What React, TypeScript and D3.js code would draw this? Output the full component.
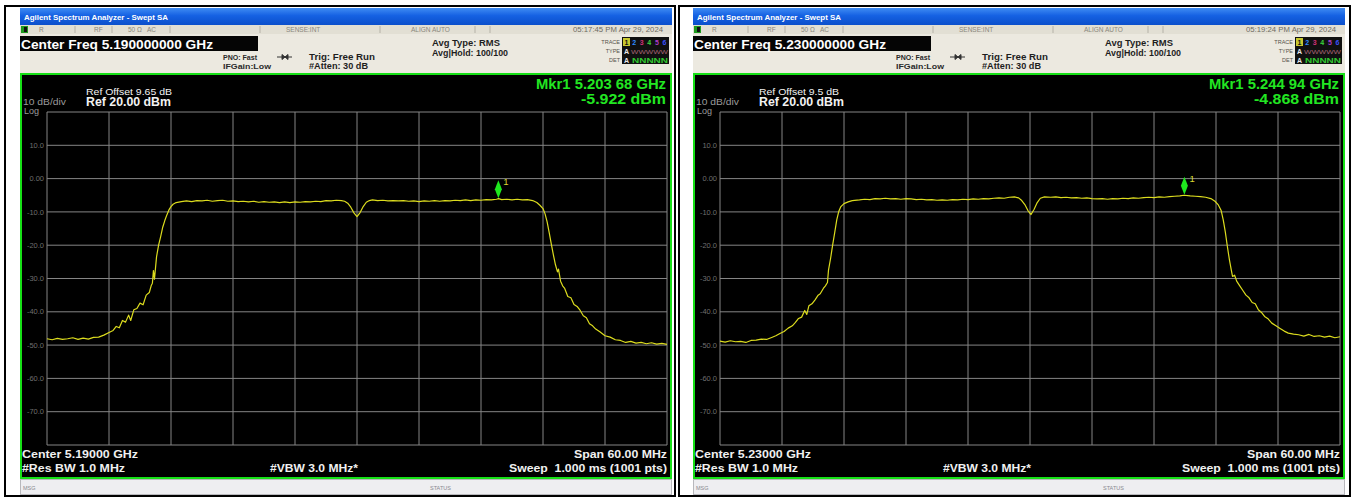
import React from "react";
import * as d3 from "d3";

// ---------- data ----------
const centerFreqsMHz = [5190, 5230];
const spanMHz = 60;
const refLevelDbm = 20;
const dbPerDiv = 10;
const refOffsetLabels = ["Ref Offset 9.65 dB", "Ref Offset 9.5 dB"];
const refLabels = ["Ref 20.00 dBm", "Ref 20.00 dBm"];
const markerFreqsMHz = [5203.68, 5244.94];
const markerLevelsDbm = [-5.922, -4.868];
const markerFreqLabels = ["Mkr1 5.203 68 GHz", "Mkr1 5.244 94 GHz"];
const markerLevelLabels = ["-5.922 dBm", "-4.868 dBm"];
const centerFreqLabels = ["Center Freq 5.190000000 GHz", "Center Freq 5.230000000 GHz"];
const centerLabels = ["Center 5.19000 GHz", "Center 5.23000 GHz"];
const timestampLabels = ["05:17:45 PM Apr 29, 2024", "05:19:24 PM Apr 29, 2024"];
const yTickValues = [10, 0, -10, -20, -30, -40, -50, -60, -70];
const yTickLabels = ["10.0", "0.00", "-10.0", "-20.0", "-30.0", "-40.0", "-50.0", "-60.0", "-70.0"];

// [offset from center (MHz), level (dBm)]
const traceLeft: [number, number][] = [
  [-30, -48.1], [-29.5, -48.4], [-29, -48.0], [-28.5, -48.3], [-28, -48.1], [-27.5, -47.8], [-27, -48.3],
  [-26.5, -47.9], [-26, -48.2], [-25.5, -47.7], [-25, -47.6], [-24.5, -47.0], [-24, -46.2], [-23.6, -45.6],
  [-23.3, -44.4], [-23, -44.8], [-22.7, -42.6], [-22.4, -43.1], [-22.1, -41.0], [-21.9, -42.6], [-21.6, -39.4],
  [-21.3, -39.0], [-21, -37.4], [-20.7, -37.9], [-20.4, -35.0], [-20.1, -34.2], [-19.9, -32.0], [-19.8, -31.4],
  [-19.7, -27.6], [-19.6, -30.2], [-19.4, -23.5], [-19.2, -20.0], [-19.0, -17.4], [-18.8, -14.6], [-18.6, -12.6],
  [-18.4, -10.9], [-18.2, -9.4], [-18.0, -8.4], [-17.8, -7.7], [-17.5, -7.2], [-17, -6.9], [-16.5, -6.7],
  [-16, -6.9], [-15.5, -6.6], [-15, -6.7], [-14.5, -6.5], [-14, -6.8], [-13.5, -6.6], [-13, -6.5], [-12.5, -6.8],
  [-12, -6.7], [-11.5, -6.9], [-11, -6.8], [-10.5, -7.0], [-10, -6.8], [-9.5, -7.1], [-9, -6.9], [-8.5, -7.1],
  [-8, -7.0], [-7.5, -7.2], [-7, -7.0], [-6.5, -7.2], [-6, -7.0], [-5.5, -7.1], [-5, -6.9], [-4.5, -7.0],
  [-4, -6.8], [-3.5, -6.9], [-3, -6.6], [-2.5, -6.7], [-2, -6.5], [-1.5, -6.6], [-1.2, -6.8], [-0.9, -7.4],
  [-0.6, -8.6], [-0.3, -10.3], [0, -11.4], [0.3, -10.2], [0.6, -8.4], [0.9, -7.1], [1.2, -6.6], [1.5, -6.4],
  [2, -6.6], [2.5, -6.5], [3, -6.7], [3.5, -6.6], [4, -6.7], [4.5, -6.6], [5, -6.8], [5.5, -6.7], [6, -6.9],
  [6.5, -6.7], [7, -6.8], [7.5, -6.6], [8, -6.8], [8.5, -6.6], [9, -6.7], [9.5, -6.5], [10, -6.6], [10.5, -6.4],
  [11, -6.6], [11.5, -6.4], [12, -6.5], [12.5, -6.3], [13, -6.4], [13.5, -6.2], [13.7, -6.0], [14, -6.3],
  [14.5, -6.2], [15, -6.4], [15.5, -6.2], [16, -6.4], [16.5, -6.3], [17, -6.6], [17.4, -7.2], [17.7, -8.0],
  [18, -9.0], [18.2, -10.6], [18.4, -13.0], [18.6, -16.2], [18.8, -19.6], [19, -22.8], [19.2, -25.8],
  [19.4, -28.0], [19.5, -27.2], [19.7, -30.8], [19.9, -32.2], [20.1, -33.0], [20.4, -35.4], [20.7, -35.8],
  [21, -37.8], [21.3, -38.4], [21.6, -39.6], [21.9, -41.2], [22.2, -41.8], [22.5, -43.6], [22.8, -44.2],
  [23.1, -45.2], [23.5, -46.0], [24, -47.2], [24.5, -47.6], [25, -48.4], [25.5, -48.6], [26, -49.2],
  [26.5, -48.9], [27, -49.4], [27.5, -49.2], [28, -49.6], [28.5, -49.3], [29, -49.7], [29.5, -49.5], [30, -49.8],
];

const traceRight: [number, number][] = [
  [-30, -48.8], [-29.5, -49.1], [-29, -48.7], [-28.5, -49.0], [-28, -48.9], [-27.5, -49.2], [-27, -48.6],
  [-26.5, -48.5], [-26, -48.2], [-25.5, -48.3], [-25, -47.7], [-24.6, -47.2], [-24.2, -46.5], [-23.8, -45.9],
  [-23.4, -44.9], [-23.0, -44.2], [-22.7, -43.2], [-22.4, -42.0], [-22.1, -41.6], [-21.8, -39.6], [-21.6, -40.8],
  [-21.4, -38.2], [-21.1, -37.6], [-20.8, -36.4], [-20.5, -35.0], [-20.3, -34.6], [-20.0, -33.0], [-19.8, -32.2],
  [-19.6, -31.2], [-19.5, -27.5], [-19.3, -24.0], [-19.1, -20.0], [-18.9, -16.2], [-18.7, -12.4], [-18.5, -9.8],
  [-18.3, -8.4], [-18.0, -7.5], [-17.6, -7.0], [-17.2, -6.6], [-16.5, -6.4], [-16, -6.2], [-15.5, -6.3],
  [-15, -6.0], [-14.5, -6.1], [-14, -5.9], [-13.5, -6.1], [-13, -6.0], [-12.5, -6.2], [-12, -6.0], [-11.5, -6.1],
  [-11, -6.3], [-10.5, -6.2], [-10, -6.4], [-9.5, -6.3], [-9, -6.5], [-8.5, -6.4], [-8, -6.5], [-7.5, -6.3],
  [-7, -6.4], [-6.5, -6.2], [-6, -6.3], [-5.5, -6.1], [-5, -6.2], [-4.5, -6.0], [-4, -6.1], [-3.5, -5.9],
  [-3, -5.8], [-2.5, -5.9], [-2, -5.6], [-1.5, -5.5], [-1.1, -5.8], [-0.8, -6.6], [-0.5, -7.8], [-0.2, -9.6],
  [0.1, -10.8], [0.4, -9.2], [0.7, -7.2], [1.0, -5.9], [1.4, -5.5], [2, -5.6], [2.5, -5.5], [3, -5.7],
  [3.5, -5.6], [4, -5.8], [4.5, -5.7], [5, -5.9], [5.5, -5.8], [6, -6.0], [6.5, -6.1], [7, -6.0], [7.5, -6.2],
  [8, -6.0], [8.5, -6.1], [9, -5.9], [9.5, -6.0], [10, -5.8], [10.5, -5.9], [11, -5.7], [11.5, -5.6],
  [12, -5.7], [12.5, -5.5], [13, -5.6], [13.5, -5.4], [14, -5.3], [14.5, -5.2], [14.9, -5.0], [15.5, -5.2],
  [16, -5.3], [16.5, -5.4], [17, -5.6], [17.5, -6.0], [17.9, -6.8], [18.2, -7.8], [18.5, -9.6], [18.7, -12.4],
  [18.9, -16.0], [19.1, -20.4], [19.3, -24.4], [19.5, -27.8], [19.6, -29.4], [19.8, -29.0], [20.0, -30.8],
  [20.3, -32.2], [20.6, -33.6], [20.9, -35.0], [21.2, -35.8], [21.5, -37.2], [21.8, -37.6], [22.1, -39.4],
  [22.4, -40.2], [22.7, -41.4], [23.0, -42.0], [23.4, -43.4], [23.8, -44.2], [24.2, -45.0], [24.6, -45.8],
  [25, -46.4], [25.5, -46.7], [26, -46.9], [26.5, -47.3], [27, -46.8], [27.5, -47.4], [28, -47.2],
  [28.5, -47.6], [29, -47.3], [29.5, -47.8], [30, -47.5],
];

const traces = [traceLeft, traceRight];
const panelOrigins = [20, 693];

const FONT = "'Liberation Sans', Arial, sans-serif";

function Panel({ idx }: { idx: number }) {
  const ox = panelOrigins[idx];
  const c = centerFreqsMHz[idx];
  const x = d3.scaleLinear().domain([c - spanMHz / 2, c + spanMHz / 2]).range([ox + 27, ox + 647]);
  const y = d3
    .scaleLinear()
    .domain([refLevelDbm, refLevelDbm - 10 * dbPerDiv])
    .range([112, 445]);
  const line = d3
    .line<[number, number]>()
    .x((d) => x(c + d[0]))
    .y((d) => y(d[1]));
  const xGrid = d3.range(11).map((i) => c - spanMHz / 2 + (i * spanMHz) / 10);
  const yGrid = d3.range(11).map((i) => refLevelDbm - i * dbPerDiv);
  const mx = x(markerFreqsMHz[idx]);
  const my = y(markerLevelsDbm[idx]);
  const gradId = `tb${idx}`;
  const traceColors = ["#e8e8e8", "#2f8cff", "#d0307a", "#3cd43c", "#b03cc8", "#3a52ff"];
  return (
    <g fontFamily={FONT}>
      <defs>
        <linearGradient id={gradId} x1="0" y1="0" x2="0" y2="1">
          <stop offset="0" stopColor="#3f8cf3" />
          <stop offset="0.45" stopColor="#1561e3" />
          <stop offset="1" stopColor="#0b4fcb" />
        </linearGradient>
      </defs>
      {/* window */}
      <rect x={ox} y={8} width={652} height={488} fill="#e9e6dd" />
      <rect x={ox} y={8} width={652} height={17} fill={`url(#${gradId})`} />
      <text x={ox + 4} y={19.5} fontSize={8} fontWeight="bold" fill="#ffffff" textLength={144} lengthAdjust="spacingAndGlyphs">
        Agilent Spectrum Analyzer - Swept SA
      </text>
      {/* status row */}
      <rect x={ox} y={25} width={652} height={9} fill="#e2dfd4" />
      <rect x={ox + 1} y={26} width={7} height={7} fill="#1e9a1e" />
      <rect x={ox + 4} y={27} width={3} height={5} fill="#111" />
      {[55, 92, 150, 240, 360, 455, 470].map((s) => (
        <line key={s} x1={ox + s} x2={ox + s} y1={26} y2={33} stroke="#b5b2a8" />
      ))}
      <g fontSize={6.5} fill="#8a877d">
        <text x={ox + 19} y={32}>R</text>
        <text x={ox + 74} y={32}>RF</text>
        <text x={ox + 108} y={32}>50 Ω</text>
        <text x={ox + 127} y={32}>AC</text>
        <text x={ox + 266} y={32}>SENSE:INT</text>
        <text x={ox + 391} y={32}>ALIGN AUTO</text>
        <text x={ox + 643} y={32} textAnchor="end" fill="#6e6b62" textLength={90} lengthAdjust="spacingAndGlyphs">
          {timestampLabels[idx]}
        </text>
      </g>
      {/* second row */}
      <rect x={ox} y={34} width={652} height={40} fill="#ece9e0" />
      <rect x={ox} y={36} width={238} height={15} fill="#050505" />
      <text x={ox + 1} y={49} fontSize={12.5} fontWeight="bold" fill="#ffffff" textLength={192} lengthAdjust="spacingAndGlyphs">
        {centerFreqLabels[idx]}
      </text>
      <g fontSize={7.5} fontWeight="bold" fill="#2a2a2a">
        <text x={ox + 203} y={60} textLength={34} lengthAdjust="spacingAndGlyphs">PNO: Fast</text>
        <text x={ox + 203} y={69} textLength={48} lengthAdjust="spacingAndGlyphs">IFGain:Low</text>
      </g>
      <g stroke="#333" strokeWidth={1} fill="#333">
        <line x1={ox + 257} x2={ox + 272} y1={57} y2={57} />
        <path d={`M${ox + 262},54.5 L${ox + 265},57 L${ox + 262},59.5 Z`} />
        <path d={`M${ox + 268},54.5 L${ox + 265},57 L${ox + 268},59.5 Z`} />
      </g>
      <g fontSize={8.5} fontWeight="bold" fill="#1e1e1e">
        <text x={ox + 289} y={60} textLength={66} lengthAdjust="spacingAndGlyphs">Trig: Free Run</text>
        <text x={ox + 289} y={69} textLength={59} lengthAdjust="spacingAndGlyphs">#Atten: 30 dB</text>
        <text x={ox + 412} y={46} textLength={68} lengthAdjust="spacingAndGlyphs">Avg Type: RMS</text>
        <text x={ox + 412} y={56} textLength={76} lengthAdjust="spacingAndGlyphs">Avg|Hold: 100/100</text>
      </g>
      {/* trace box */}
      <g fontSize={5.5} fill="#55524a" textAnchor="end">
        <text x={ox + 600} y={44}>TRACE</text>
        <text x={ox + 600} y={53}>TYPE</text>
        <text x={ox + 600} y={62}>DET</text>
      </g>
      <rect x={ox + 602} y={37} width={47} height={27} fill="#101010" />
      <rect x={ox + 603} y={38} width={7} height={8} fill="#c8c830" />
      {traceColors.map((col, i) => (
        <text key={i} x={ox + 606.5 + i * 7.6} y={45} fontSize={7} fontWeight="bold" textAnchor="middle" fill={i === 0 ? "#111" : col}>
          {i + 1}
        </text>
      ))}
      <text x={ox + 606.5} y={54} fontSize={7} fontWeight="bold" textAnchor="middle" fill="#e8e8e8">A</text>
      <text x={ox + 611} y={53.5} fontSize={5.5} fill="#a06070" textLength={37} lengthAdjust="spacingAndGlyphs">WWWWW</text>
      <text x={ox + 606.5} y={62.5} fontSize={7} fontWeight="bold" textAnchor="middle" fill="#e8e8e8">A</text>
      <text x={ox + 612} y={62.5} fontSize={6.5} fontWeight="bold" fill="#32c832" textLength={36} lengthAdjust="spacingAndGlyphs">NNNNN</text>

      {/* display */}
      <rect x={ox + 1} y={74} width={650} height={404} fill="#000" stroke="#16e016" strokeWidth={2} />
      {xGrid.map((f) => (
        <line key={`vx${f}`} x1={x(f)} x2={x(f)} y1={y(refLevelDbm)} y2={y(refLevelDbm - 10 * dbPerDiv)} stroke="#858585" strokeWidth={1} />
      ))}
      {yGrid.map((v) => (
        <line key={`hy${v}`} x1={x(c - spanMHz / 2)} x2={x(c + spanMHz / 2)} y1={y(v)} y2={y(v)} stroke="#858585" strokeWidth={1} />
      ))}
      {yTickValues.map((v, i) => (
        <text key={`yl${v}`} x={ox + 24} y={y(v)} dy="0.35em" fontSize={7.5} fill="#6f6f6f" textAnchor="end">
          {yTickLabels[i]}
        </text>
      ))}
      <text x={ox + 3} y={105} fontSize={9} fill="#9a9a9a" textLength={43} lengthAdjust="spacingAndGlyphs">10 dB/div</text>
      <text x={ox + 4} y={114} fontSize={9} fill="#9a9a9a">Log</text>
      <text x={ox + 66} y={95} fontSize={9} fill="#f2f2f2" textLength={idx === 0 ? 86 : 80} lengthAdjust="spacingAndGlyphs">
        {refOffsetLabels[idx]}
      </text>
      <text x={ox + 66} y={106} fontSize={12} fontWeight="bold" fill="#f2f2f2" textLength={85} lengthAdjust="spacingAndGlyphs">
        {refLabels[idx]}
      </text>
      <text x={ox + 646} y={89} fontSize={14} fontWeight="bold" fill="#22e622" textAnchor="end" textLength={130} lengthAdjust="spacingAndGlyphs">
        {markerFreqLabels[idx]}
      </text>
      <text x={ox + 646} y={104} fontSize={14} fontWeight="bold" fill="#22e622" textAnchor="end" textLength={85} lengthAdjust="spacingAndGlyphs">
        {markerLevelLabels[idx]}
      </text>

      <path d={line(traces[idx]) || ""} fill="none" stroke="#dcdc1e" strokeWidth={1.2} strokeLinejoin="round" />

      {/* marker */}
      <path d={`M${mx},${my - 18} L${mx + 3.5},${my - 9} L${mx},${my} L${mx - 3.5},${my - 9} Z`} fill="#1ee81e" />
      <text x={mx + 5} y={my - 13} fontSize={9.5} fill="#d8d830">1</text>

      {/* bottom annotations */}
      <g fontSize={11.5} fontWeight="bold" fill="#f0f0f0">
        <text x={ox + 2} y={458} textLength={116} lengthAdjust="spacingAndGlyphs">{centerLabels[idx]}</text>
        <text x={ox + 2} y={472} textLength={103} lengthAdjust="spacingAndGlyphs">#Res BW 1.0 MHz</text>
        <text x={ox + 250} y={472} textLength={88} lengthAdjust="spacingAndGlyphs">#VBW 3.0 MHz*</text>
        <text x={ox + 647} y={458} textAnchor="end" textLength={93} lengthAdjust="spacingAndGlyphs">Span 60.00 MHz</text>
        <text x={ox + 647} y={472} textAnchor="end" textLength={158} lengthAdjust="spacingAndGlyphs" xmlSpace="preserve">
          Sweep  1.000 ms (1001 pts)
        </text>
      </g>

      {/* message bar */}
      <rect x={ox + 0.5} y={479.5} width={651} height={15} fill="#eeeef1" stroke="#b8b8bc" />
      <text x={ox + 3} y={490} fontSize={5.5} fill="#8a8a90">MSG</text>
      <text x={ox + 410} y={490} fontSize={5.5} fill="#8a8a90">STATUS</text>
    </g>
  );
}

export default function App() {
  return (
    <svg
      width={1357}
      height={500}
      viewBox="0 0 1357 500"
      style={{ position: "absolute", left: 0, top: 0, background: "#ffffff" }}
    >
      <rect x={0} y={0} width={1357} height={500} fill="#ffffff" />
      <Panel idx={0} />
      <Panel idx={1} />
      <rect x={5} y={6} width={670} height={490} fill="none" stroke="#000" strokeWidth={2} />
      <rect x={679} y={6} width={671} height={490} fill="none" stroke="#000" strokeWidth={2} />
    </svg>
  );
}
